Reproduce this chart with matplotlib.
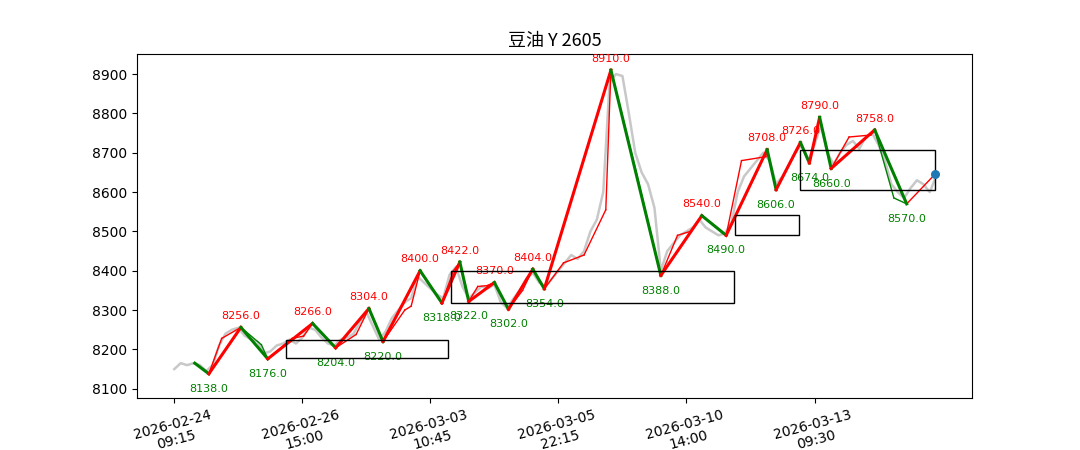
import numpy as np
import matplotlib
matplotlib.use("Agg")
import matplotlib.pyplot as plt

plt.rcParams['font.family'] = ['DejaVu Sans', 'Noto Sans CJK SC']

# precio (cada 5 barras)
precio = [8150, 8165, 8160, 8165, 8160, 8145, 8160, 8210, 8240, 8250, 8255, 8235, 8225, 8220, 8190, 8195,
          8210, 8215, 8225, 8215, 8230, 8255, 8250, 8230, 8215, 8210, 8225, 8230, 8240, 8270, 8295, 8260,
          8225, 8245, 8280, 8300, 8320, 8330, 8385, 8370, 8355, 8340, 8330, 8390, 8410, 8360, 8330, 8345,
          8360, 8355, 8365, 8320, 8305, 8330, 8350, 8380, 8395, 8370, 8360, 8380, 8400, 8420, 8440, 8430,
          8450, 8500, 8530, 8600, 8880, 8900, 8895, 8800, 8700, 8650, 8620, 8560, 8400, 8450, 8470, 8490,
          8500, 8510, 8530, 8510, 8500, 8490, 8495, 8520, 8600, 8640, 8660, 8680, 8700, 8680, 8620, 8640,
          8670, 8700, 8720, 8680, 8720, 8770, 8700, 8670, 8700, 8720, 8730, 8710, 8740, 8750, 8720, 8680,
          8620, 8600, 8585, 8610, 8630, 8620, 8600, 8640]
precio_idx = list(range(0, 5 * len(precio), 5))

# trazos principales
bi_idx = [16, 27, 52, 73, 108, 126, 152, 163, 192, 209, 223, 230, 250, 261, 280, 289, 341, 380,
          412, 431, 463, 470, 489, 496, 504, 513, 547, 572]
bi_val = [8165, 8138, 8256, 8176, 8266, 8204, 8304, 8220, 8400, 8318, 8422, 8322, 8370, 8302, 8404,
          8354, 8910, 8388, 8540, 8490, 8708, 8606, 8726, 8674, 8790, 8660, 8758, 8570]

# trazos finos
fino_idx = [27, 37, 52, 68, 73, 92, 101, 108, 126, 142, 152, 163, 180, 185, 192, 209, 218, 223, 230,
            237, 244, 250, 261, 272, 280, 289, 304, 320, 337, 341, 360, 380, 393, 403, 412, 431, 443,
            462, 463, 470, 489, 496, 504, 513, 527, 544, 547, 562, 572, 594]
fino_val = [8138, 8228, 8256, 8212, 8176, 8228, 8234, 8266, 8204, 8238, 8304, 8220, 8300, 8310, 8400,
            8318, 8400, 8422, 8322, 8360, 8362, 8370, 8302, 8350, 8404, 8354, 8420, 8440, 8555, 8910,
            8660, 8388, 8490, 8500, 8540, 8490, 8680, 8690, 8708, 8606, 8726, 8674, 8790, 8660, 8740,
            8745, 8758, 8585, 8570, 8645]

# zonas
zona_ini = [87, 216, 438, 489]
zona_fin = [214, 437, 488, 594]
zona_bajo = [8177, 8319, 8491, 8606]
zona_alto = [8225, 8400, 8542, 8707]

tick_pos = [0, 100, 200, 300, 400, 500]
tick_lab = ["2026-02-24\n09:15", "2026-02-26\n15:00", "2026-03-03\n10:45",
            "2026-03-05\n22:15", "2026-03-10\n14:00", "2026-03-13\n09:30"]

fig = plt.figure(figsize=(10.8, 4.5), dpi=100)
ax = fig.add_axes([0.127, 0.116, 0.773, 0.764])

ax.plot(precio_idx, precio, color="#c8c8c8", lw=1.8, zorder=1)

for i in range(len(fino_idx) - 1):
    c = "red" if fino_val[i + 1] > fino_val[i] else "green"
    ax.plot(fino_idx[i:i + 2], fino_val[i:i + 2], color=c, lw=1, zorder=2)

for i in range(len(bi_idx) - 1):
    c = "red" if bi_val[i + 1] > bi_val[i] else "green"
    ax.plot(bi_idx[i:i + 2], bi_val[i:i + 2], color=c, lw=2.2, zorder=3)

for i in range(1, len(bi_idx)):
    alto = bi_val[i] > bi_val[i - 1]
    ax.annotate(f"{bi_val[i]:.1f}", (bi_idx[i], bi_val[i]),
                xytext=(0, 6 if alto else -13), textcoords="offset points",
                ha="center", fontsize=8, color="red" if alto else "green")

for a, b, lo, hi in zip(zona_ini, zona_fin, zona_bajo, zona_alto):
    ax.add_patch(plt.Rectangle((a, lo), b - a, hi - lo, fill=False, ec="black", lw=1, zorder=4))

ax.scatter([fino_idx[-1]], [fino_val[-1]], s=30, color="#1f77b4", zorder=5)

ax.set_xlim(-29, 623)
ax.set_ylim(8077, 8951)
ax.set_xticks(tick_pos)
ax.set_xticklabels(tick_lab, rotation=15)
ax.set_title("豆油 Y 2605", fontsize=13, family=['Noto Sans CJK SC', 'DejaVu Sans'])

fig.savefig("out.png")
